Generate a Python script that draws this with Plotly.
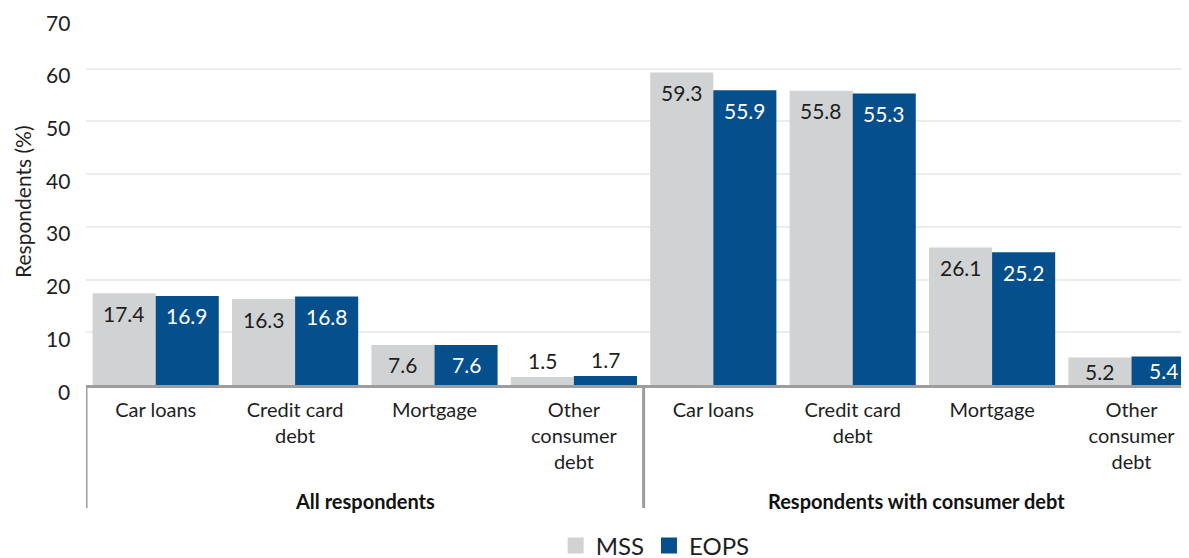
import plotly.graph_objects as go

categories = ["Car loans", "Credit card<br>debt", "Mortgage", "Other<br>consumer<br>debt",
              "Car loans", "Credit card<br>debt", "Mortgage", "Other<br>consumer<br>debt"]
groups = ["All respondents", "Respondents with consumer debt"]
mss = [17.4, 16.3, 7.6, 1.5, 59.3, 55.8, 26.1, 5.2]
eops = [16.9, 16.8, 7.6, 1.7, 55.9, 55.3, 25.2, 5.4]
series_names = ["MSS", "EOPS"]
y_ticks = [0, 10, 20, 30, 40, 50, 60, 70]
y_title = "Respondents (%)"

GREY = "#d1d2d4"
BLUE = "#064f8d"
TXT = "#1e1e1e"
FONT = "Lato"

W, H = 1181, 550
ML, MR, MT, MB = 78, 0, 8, 173
YMAX = 70
plot_w = W - ML - MR
px_per_cat = 139.4
x_end = -0.5 + plot_w / px_per_cat
BARGAP = 0.095

xs = list(range(len(categories)))
plot_h = H - MT - MB
px_per_unit = plot_h / YMAX

fig = go.Figure()
for name, vals, col in [(series_names[0], mss, GREY), (series_names[1], eops, BLUE)]:
    fig.add_trace(go.Bar(x=xs, y=vals, name=name, marker=dict(color=col, line=dict(width=0)),
                         showlegend=False, hoverinfo="y"))
    fig.add_trace(go.Scatter(x=[None], y=[None], mode="markers", name=name,
                             marker=dict(symbol="square", size=16, color=col)))

# data labels
half = (1 - BARGAP) / 4
for vals, off, incol in [(mss, -half, TXT), (eops, half, "white")]:
    for i, v in enumerate(vals):
        bar_px = v * px_per_unit
        if bar_px > 22:
            shift = -min(20, bar_px / 2)
            col = incol
        else:
            shift = 17
            col = TXT
        fig.add_annotation(x=i + off, y=v, text=f"{v:.1f}", showarrow=False,
                           yshift=shift, yanchor="middle", xanchor="center",
                           font=dict(family=FONT, size=21, color=col))

# y tick labels (sit slightly below their gridlines, as in the source)
for t in y_ticks:
    fig.add_annotation(x=0, xref="paper", y=t, yref="y", text=str(t), showarrow=False,
                       xanchor="right", yanchor="middle", xshift=-14, yshift=-6,
                       font=dict(family=FONT, size=21, color=TXT))

# y title
fig.add_annotation(x=(22 - 86) / plot_w, xref="paper", y=(385 - 202) / plot_h, yref="paper",
                   text=y_title, textangle=-90, showarrow=False, xanchor="center", yanchor="middle",
                   borderpad=0, font=dict(family=FONT, size=21, color=TXT))

# group labels
group_centers = [1.5, (3.5 + x_end) / 2]
for g, cx in zip(groups, group_centers):
    fig.add_annotation(x=cx, xref="x", y=(385 - 501) / plot_h, yref="paper", text=f"<b>{g}</b>",
                       showarrow=False, yanchor="middle", font=dict(family=FONT, size=20, color="#111"))

# separator lines
for sx in [-0.5, 3.5]:
    fig.add_shape(type="line", xref="x", yref="paper", x0=sx, x1=sx, y0=0, y1=-(508 - 385) / plot_h,
                  line=dict(color="#9d9d9f", width=3))

fig.update_layout(
    width=W, height=H,
    margin=dict(l=ML, r=MR, t=MT, b=MB, autoexpand=False),
    barmode="group", bargap=BARGAP, bargroupgap=0,
    plot_bgcolor="white", paper_bgcolor="white",
    font=dict(family=FONT, size=20, color=TXT),
    legend=dict(orientation="h", x=0.516, xanchor="center", y=(385 - 546) / plot_h, yanchor="middle",
                font=dict(family=FONT, size=24, color=TXT), itemwidth=30, tracegroupgap=0),
    xaxis=dict(range=[-0.5, x_end], tickmode="array", tickvals=xs, ticktext=categories,
               showgrid=False, showline=True, linecolor="#9d9d9f", linewidth=3, ticks="",
               zeroline=False, ticklabelstandoff=5, tickfont=dict(family=FONT, size=20, color=TXT)),
    yaxis=dict(range=[0, YMAX], tickmode="array", tickvals=y_ticks, showticklabels=False,
               showgrid=True, gridcolor="#ececec", gridwidth=2, zeroline=False, ticks=""),
)

fig.write_html("out.html")
